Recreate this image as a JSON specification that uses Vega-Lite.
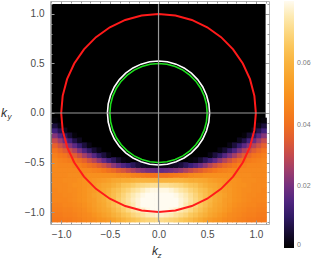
{
"$schema":"https://vega.github.io/schema/vega-lite/v6.json",
"width":219,"height":223,"autosize":"none",
"padding":{"left":50,"top":1,"right":43,"bottom":37},
"background":"white",
"data":{"values":[{}]},
"config":{"view":{"stroke":"#b4b4b4","strokeWidth":1},"axis":{"domain":false,"grid":false,"tickColor":"#9a9a9a","tickWidth":1,"labelColor":"#4a4a4a","labelFont":"Liberation Sans","labelFontSize":10}},
"datasets":{
"cells":[
{"x":0,"y":-1.1,"v":0.071},{"x":0,"y":-1.05,"v":0.077},{"x":0,"y":-1,"v":0.081},{"x":0,"y":-0.95,"v":0.084},{"x":0,"y":-0.9,"v":0.084},{"x":0,"y":-0.85,"v":0.083},{"x":0,"y":-0.8,"v":0.079},{"x":0,"y":-0.75,"v":0.072},{"x":0,"y":-0.7,"v":0.060},{"x":0,"y":-0.65,"v":0.041},{"x":0,"y":-0.6,"v":0.018},{"x":0,"y":-0.55,"v":0.002},
{"x":-0.05,"y":-1.1,"v":0.071},{"x":-0.05,"y":-1.05,"v":0.077},{"x":-0.05,"y":-1,"v":0.081},{"x":-0.05,"y":-0.95,"v":0.084},{"x":-0.05,"y":-0.9,"v":0.084},{"x":-0.05,"y":-0.85,"v":0.083},{"x":-0.05,"y":-0.8,"v":0.079},{"x":-0.05,"y":-0.75,"v":0.072},{"x":-0.05,"y":-0.7,"v":0.060},{"x":-0.05,"y":-0.65,"v":0.041},{"x":-0.05,"y":-0.6,"v":0.018},{"x":-0.05,"y":-0.55,"v":0.002},
{"x":0.05,"y":-1.1,"v":0.070},{"x":0.05,"y":-1.05,"v":0.076},{"x":0.05,"y":-1,"v":0.080},{"x":0.05,"y":-0.95,"v":0.083},{"x":0.05,"y":-0.9,"v":0.084},{"x":0.05,"y":-0.85,"v":0.082},{"x":0.05,"y":-0.8,"v":0.079},{"x":0.05,"y":-0.75,"v":0.072},{"x":0.05,"y":-0.7,"v":0.060},{"x":0.05,"y":-0.65,"v":0.041},{"x":0.05,"y":-0.6,"v":0.019},{"x":0.05,"y":-0.55,"v":0.002},
{"x":-0.1,"y":-1.1,"v":0.070},{"x":-0.1,"y":-1.05,"v":0.076},{"x":-0.1,"y":-1,"v":0.080},{"x":-0.1,"y":-0.95,"v":0.083},{"x":-0.1,"y":-0.9,"v":0.084},{"x":-0.1,"y":-0.85,"v":0.082},{"x":-0.1,"y":-0.8,"v":0.079},{"x":-0.1,"y":-0.75,"v":0.072},{"x":-0.1,"y":-0.7,"v":0.060},{"x":-0.1,"y":-0.65,"v":0.041},{"x":-0.1,"y":-0.6,"v":0.019},{"x":-0.1,"y":-0.55,"v":0.002},
{"x":0.1,"y":-1.1,"v":0.069},{"x":0.1,"y":-1.05,"v":0.075},{"x":0.1,"y":-1,"v":0.079},{"x":0.1,"y":-0.95,"v":0.082},{"x":0.1,"y":-0.9,"v":0.083},{"x":0.1,"y":-0.85,"v":0.081},{"x":0.1,"y":-0.8,"v":0.078},{"x":0.1,"y":-0.75,"v":0.071},{"x":0.1,"y":-0.7,"v":0.060},{"x":0.1,"y":-0.65,"v":0.042},{"x":0.1,"y":-0.6,"v":0.020},{"x":0.1,"y":-0.55,"v":0.003},
{"x":-0.15,"y":-1.1,"v":0.069},{"x":-0.15,"y":-1.05,"v":0.075},{"x":-0.15,"y":-1,"v":0.079},{"x":-0.15,"y":-0.95,"v":0.082},{"x":-0.15,"y":-0.9,"v":0.083},{"x":-0.15,"y":-0.85,"v":0.081},{"x":-0.15,"y":-0.8,"v":0.078},{"x":-0.15,"y":-0.75,"v":0.071},{"x":-0.15,"y":-0.7,"v":0.060},{"x":-0.15,"y":-0.65,"v":0.042},{"x":-0.15,"y":-0.6,"v":0.020},{"x":-0.15,"y":-0.55,"v":0.003},
{"x":0.15,"y":-1.1,"v":0.068},{"x":0.15,"y":-1.05,"v":0.073},{"x":0.15,"y":-1,"v":0.077},{"x":0.15,"y":-0.95,"v":0.080},{"x":0.15,"y":-0.9,"v":0.081},{"x":0.15,"y":-0.85,"v":0.079},{"x":0.15,"y":-0.8,"v":0.076},{"x":0.15,"y":-0.75,"v":0.070},{"x":0.15,"y":-0.7,"v":0.060},{"x":0.15,"y":-0.65,"v":0.043},{"x":0.15,"y":-0.6,"v":0.022},{"x":0.15,"y":-0.55,"v":0.004},
{"x":-0.2,"y":-1.1,"v":0.068},{"x":-0.2,"y":-1.05,"v":0.073},{"x":-0.2,"y":-1,"v":0.077},{"x":-0.2,"y":-0.95,"v":0.080},{"x":-0.2,"y":-0.9,"v":0.081},{"x":-0.2,"y":-0.85,"v":0.079},{"x":-0.2,"y":-0.8,"v":0.076},{"x":-0.2,"y":-0.75,"v":0.070},{"x":-0.2,"y":-0.7,"v":0.060},{"x":-0.2,"y":-0.65,"v":0.043},{"x":-0.2,"y":-0.6,"v":0.022},{"x":-0.2,"y":-0.55,"v":0.004},
{"x":0.2,"y":-1.1,"v":0.066},{"x":0.2,"y":-1.05,"v":0.071},{"x":0.2,"y":-1,"v":0.075},{"x":0.2,"y":-0.95,"v":0.078},{"x":0.2,"y":-0.9,"v":0.078},{"x":0.2,"y":-0.85,"v":0.077},{"x":0.2,"y":-0.8,"v":0.074},{"x":0.2,"y":-0.75,"v":0.069},{"x":0.2,"y":-0.7,"v":0.060},{"x":0.2,"y":-0.65,"v":0.044},{"x":0.2,"y":-0.6,"v":0.024},{"x":0.2,"y":-0.55,"v":0.006},
{"x":-0.25,"y":-1.1,"v":0.066},{"x":-0.25,"y":-1.05,"v":0.071},{"x":-0.25,"y":-1,"v":0.075},{"x":-0.25,"y":-0.95,"v":0.078},{"x":-0.25,"y":-0.9,"v":0.078},{"x":-0.25,"y":-0.85,"v":0.077},{"x":-0.25,"y":-0.8,"v":0.074},{"x":-0.25,"y":-0.75,"v":0.069},{"x":-0.25,"y":-0.7,"v":0.060},{"x":-0.25,"y":-0.65,"v":0.044},{"x":-0.25,"y":-0.6,"v":0.024},{"x":-0.25,"y":-0.55,"v":0.006},
{"x":0.25,"y":-1.1,"v":0.064},{"x":0.25,"y":-1.05,"v":0.069},{"x":0.25,"y":-1,"v":0.073},{"x":0.25,"y":-0.95,"v":0.075},{"x":0.25,"y":-0.9,"v":0.076},{"x":0.25,"y":-0.85,"v":0.075},{"x":0.25,"y":-0.8,"v":0.072},{"x":0.25,"y":-0.75,"v":0.067},{"x":0.25,"y":-0.7,"v":0.059},{"x":0.25,"y":-0.65,"v":0.045},{"x":0.25,"y":-0.6,"v":0.027},{"x":0.25,"y":-0.55,"v":0.009},
{"x":-0.3,"y":-1.1,"v":0.064},{"x":-0.3,"y":-1.05,"v":0.069},{"x":-0.3,"y":-1,"v":0.073},{"x":-0.3,"y":-0.95,"v":0.075},{"x":-0.3,"y":-0.9,"v":0.076},{"x":-0.3,"y":-0.85,"v":0.075},{"x":-0.3,"y":-0.8,"v":0.072},{"x":-0.3,"y":-0.75,"v":0.067},{"x":-0.3,"y":-0.7,"v":0.059},{"x":-0.3,"y":-0.65,"v":0.045},{"x":-0.3,"y":-0.6,"v":0.027},{"x":-0.3,"y":-0.55,"v":0.009},
{"x":0.3,"y":-1.1,"v":0.062},{"x":0.3,"y":-1.05,"v":0.066},{"x":0.3,"y":-1,"v":0.070},{"x":0.3,"y":-0.95,"v":0.072},{"x":0.3,"y":-0.9,"v":0.073},{"x":0.3,"y":-0.85,"v":0.072},{"x":0.3,"y":-0.8,"v":0.069},{"x":0.3,"y":-0.75,"v":0.065},{"x":0.3,"y":-0.7,"v":0.058},{"x":0.3,"y":-0.65,"v":0.047},{"x":0.3,"y":-0.6,"v":0.030},{"x":0.3,"y":-0.55,"v":0.012},{"x":0.3,"y":-0.5,"v":0.001},
{"x":-0.35,"y":-1.1,"v":0.062},{"x":-0.35,"y":-1.05,"v":0.066},{"x":-0.35,"y":-1,"v":0.070},{"x":-0.35,"y":-0.95,"v":0.072},{"x":-0.35,"y":-0.9,"v":0.073},{"x":-0.35,"y":-0.85,"v":0.072},{"x":-0.35,"y":-0.8,"v":0.069},{"x":-0.35,"y":-0.75,"v":0.065},{"x":-0.35,"y":-0.7,"v":0.058},{"x":-0.35,"y":-0.65,"v":0.047},{"x":-0.35,"y":-0.6,"v":0.030},{"x":-0.35,"y":-0.55,"v":0.012},{"x":-0.35,"y":-0.5,"v":0.001},
{"x":0.35,"y":-1.1,"v":0.060},{"x":0.35,"y":-1.05,"v":0.064},{"x":0.35,"y":-1,"v":0.067},{"x":0.35,"y":-0.95,"v":0.069},{"x":0.35,"y":-0.9,"v":0.070},{"x":0.35,"y":-0.85,"v":0.069},{"x":0.35,"y":-0.8,"v":0.067},{"x":0.35,"y":-0.75,"v":0.064},{"x":0.35,"y":-0.7,"v":0.058},{"x":0.35,"y":-0.65,"v":0.048},{"x":0.35,"y":-0.6,"v":0.033},{"x":0.35,"y":-0.55,"v":0.015},{"x":0.35,"y":-0.5,"v":0.002},
{"x":-0.4,"y":-1.1,"v":0.060},{"x":-0.4,"y":-1.05,"v":0.064},{"x":-0.4,"y":-1,"v":0.067},{"x":-0.4,"y":-0.95,"v":0.069},{"x":-0.4,"y":-0.9,"v":0.070},{"x":-0.4,"y":-0.85,"v":0.069},{"x":-0.4,"y":-0.8,"v":0.067},{"x":-0.4,"y":-0.75,"v":0.064},{"x":-0.4,"y":-0.7,"v":0.058},{"x":-0.4,"y":-0.65,"v":0.048},{"x":-0.4,"y":-0.6,"v":0.033},{"x":-0.4,"y":-0.55,"v":0.015},{"x":-0.4,"y":-0.5,"v":0.002},
{"x":0.4,"y":-1.1,"v":0.058},{"x":0.4,"y":-1.05,"v":0.061},{"x":0.4,"y":-1,"v":0.064},{"x":0.4,"y":-0.95,"v":0.066},{"x":0.4,"y":-0.9,"v":0.067},{"x":0.4,"y":-0.85,"v":0.066},{"x":0.4,"y":-0.8,"v":0.064},{"x":0.4,"y":-0.75,"v":0.061},{"x":0.4,"y":-0.7,"v":0.057},{"x":0.4,"y":-0.65,"v":0.048},{"x":0.4,"y":-0.6,"v":0.035},{"x":0.4,"y":-0.55,"v":0.019},{"x":0.4,"y":-0.5,"v":0.005},
{"x":-0.45,"y":-1.1,"v":0.058},{"x":-0.45,"y":-1.05,"v":0.061},{"x":-0.45,"y":-1,"v":0.064},{"x":-0.45,"y":-0.95,"v":0.066},{"x":-0.45,"y":-0.9,"v":0.067},{"x":-0.45,"y":-0.85,"v":0.066},{"x":-0.45,"y":-0.8,"v":0.064},{"x":-0.45,"y":-0.75,"v":0.061},{"x":-0.45,"y":-0.7,"v":0.057},{"x":-0.45,"y":-0.65,"v":0.048},{"x":-0.45,"y":-0.6,"v":0.035},{"x":-0.45,"y":-0.55,"v":0.019},{"x":-0.45,"y":-0.5,"v":0.005},
{"x":0.45,"y":-1.1,"v":0.055},{"x":0.45,"y":-1.05,"v":0.059},{"x":0.45,"y":-1,"v":0.061},{"x":0.45,"y":-0.95,"v":0.063},{"x":0.45,"y":-0.9,"v":0.063},{"x":0.45,"y":-0.85,"v":0.063},{"x":0.45,"y":-0.8,"v":0.062},{"x":0.45,"y":-0.75,"v":0.059},{"x":0.45,"y":-0.7,"v":0.056},{"x":0.45,"y":-0.65,"v":0.049},{"x":0.45,"y":-0.6,"v":0.038},{"x":0.45,"y":-0.55,"v":0.023},{"x":0.45,"y":-0.5,"v":0.009},
{"x":-0.5,"y":-1.1,"v":0.055},{"x":-0.5,"y":-1.05,"v":0.059},{"x":-0.5,"y":-1,"v":0.061},{"x":-0.5,"y":-0.95,"v":0.063},{"x":-0.5,"y":-0.9,"v":0.063},{"x":-0.5,"y":-0.85,"v":0.063},{"x":-0.5,"y":-0.8,"v":0.062},{"x":-0.5,"y":-0.75,"v":0.059},{"x":-0.5,"y":-0.7,"v":0.056},{"x":-0.5,"y":-0.65,"v":0.049},{"x":-0.5,"y":-0.6,"v":0.038},{"x":-0.5,"y":-0.55,"v":0.023},{"x":-0.5,"y":-0.5,"v":0.009},
{"x":0.5,"y":-1.1,"v":0.053},{"x":0.5,"y":-1.05,"v":0.056},{"x":0.5,"y":-1,"v":0.058},{"x":0.5,"y":-0.95,"v":0.060},{"x":0.5,"y":-0.9,"v":0.061},{"x":0.5,"y":-0.85,"v":0.060},{"x":0.5,"y":-0.8,"v":0.059},{"x":0.5,"y":-0.75,"v":0.057},{"x":0.5,"y":-0.7,"v":0.054},{"x":0.5,"y":-0.65,"v":0.049},{"x":0.5,"y":-0.6,"v":0.040},{"x":0.5,"y":-0.55,"v":0.028},{"x":0.5,"y":-0.5,"v":0.013},{"x":0.5,"y":-0.45,"v":0.002},
{"x":-0.55,"y":-1.1,"v":0.053},{"x":-0.55,"y":-1.05,"v":0.056},{"x":-0.55,"y":-1,"v":0.058},{"x":-0.55,"y":-0.95,"v":0.060},{"x":-0.55,"y":-0.9,"v":0.061},{"x":-0.55,"y":-0.85,"v":0.060},{"x":-0.55,"y":-0.8,"v":0.059},{"x":-0.55,"y":-0.75,"v":0.057},{"x":-0.55,"y":-0.7,"v":0.054},{"x":-0.55,"y":-0.65,"v":0.049},{"x":-0.55,"y":-0.6,"v":0.040},{"x":-0.55,"y":-0.55,"v":0.028},{"x":-0.55,"y":-0.5,"v":0.013},{"x":-0.55,"y":-0.45,"v":0.002},
{"x":0.55,"y":-1.1,"v":0.051},{"x":0.55,"y":-1.05,"v":0.054},{"x":0.55,"y":-1,"v":0.056},{"x":0.55,"y":-0.95,"v":0.057},{"x":0.55,"y":-0.9,"v":0.058},{"x":0.55,"y":-0.85,"v":0.058},{"x":0.55,"y":-0.8,"v":0.057},{"x":0.55,"y":-0.75,"v":0.056},{"x":0.55,"y":-0.7,"v":0.053},{"x":0.55,"y":-0.65,"v":0.049},{"x":0.55,"y":-0.6,"v":0.042},{"x":0.55,"y":-0.55,"v":0.032},{"x":0.55,"y":-0.5,"v":0.018},{"x":0.55,"y":-0.45,"v":0.006},
{"x":-0.6,"y":-1.1,"v":0.051},{"x":-0.6,"y":-1.05,"v":0.054},{"x":-0.6,"y":-1,"v":0.056},{"x":-0.6,"y":-0.95,"v":0.057},{"x":-0.6,"y":-0.9,"v":0.058},{"x":-0.6,"y":-0.85,"v":0.058},{"x":-0.6,"y":-0.8,"v":0.057},{"x":-0.6,"y":-0.75,"v":0.056},{"x":-0.6,"y":-0.7,"v":0.053},{"x":-0.6,"y":-0.65,"v":0.049},{"x":-0.6,"y":-0.6,"v":0.042},{"x":-0.6,"y":-0.55,"v":0.032},{"x":-0.6,"y":-0.5,"v":0.018},{"x":-0.6,"y":-0.45,"v":0.006},
{"x":0.6,"y":-1.1,"v":0.050},{"x":0.6,"y":-1.05,"v":0.052},{"x":0.6,"y":-1,"v":0.054},{"x":0.6,"y":-0.95,"v":0.055},{"x":0.6,"y":-0.9,"v":0.056},{"x":0.6,"y":-0.85,"v":0.056},{"x":0.6,"y":-0.8,"v":0.055},{"x":0.6,"y":-0.75,"v":0.054},{"x":0.6,"y":-0.7,"v":0.052},{"x":0.6,"y":-0.65,"v":0.049},{"x":0.6,"y":-0.6,"v":0.044},{"x":0.6,"y":-0.55,"v":0.035},{"x":0.6,"y":-0.5,"v":0.023},{"x":0.6,"y":-0.45,"v":0.010},{"x":0.6,"y":-0.4,"v":0.002},
{"x":-0.65,"y":-1.1,"v":0.050},{"x":-0.65,"y":-1.05,"v":0.052},{"x":-0.65,"y":-1,"v":0.054},{"x":-0.65,"y":-0.95,"v":0.055},{"x":-0.65,"y":-0.9,"v":0.056},{"x":-0.65,"y":-0.85,"v":0.056},{"x":-0.65,"y":-0.8,"v":0.055},{"x":-0.65,"y":-0.75,"v":0.054},{"x":-0.65,"y":-0.7,"v":0.052},{"x":-0.65,"y":-0.65,"v":0.049},{"x":-0.65,"y":-0.6,"v":0.044},{"x":-0.65,"y":-0.55,"v":0.035},{"x":-0.65,"y":-0.5,"v":0.023},{"x":-0.65,"y":-0.45,"v":0.010},{"x":-0.65,"y":-0.4,"v":0.002},
{"x":0.65,"y":-1.1,"v":0.048},{"x":0.65,"y":-1.05,"v":0.050},{"x":0.65,"y":-1,"v":0.052},{"x":0.65,"y":-0.95,"v":0.053},{"x":0.65,"y":-0.9,"v":0.053},{"x":0.65,"y":-0.85,"v":0.054},{"x":0.65,"y":-0.8,"v":0.053},{"x":0.65,"y":-0.75,"v":0.052},{"x":0.65,"y":-0.7,"v":0.051},{"x":0.65,"y":-0.65,"v":0.049},{"x":0.65,"y":-0.6,"v":0.045},{"x":0.65,"y":-0.55,"v":0.038},{"x":0.65,"y":-0.5,"v":0.028},{"x":0.65,"y":-0.45,"v":0.016},{"x":0.65,"y":-0.4,"v":0.005},
{"x":-0.7,"y":-1.1,"v":0.048},{"x":-0.7,"y":-1.05,"v":0.050},{"x":-0.7,"y":-1,"v":0.052},{"x":-0.7,"y":-0.95,"v":0.053},{"x":-0.7,"y":-0.9,"v":0.053},{"x":-0.7,"y":-0.85,"v":0.054},{"x":-0.7,"y":-0.8,"v":0.053},{"x":-0.7,"y":-0.75,"v":0.052},{"x":-0.7,"y":-0.7,"v":0.051},{"x":-0.7,"y":-0.65,"v":0.049},{"x":-0.7,"y":-0.6,"v":0.045},{"x":-0.7,"y":-0.55,"v":0.038},{"x":-0.7,"y":-0.5,"v":0.028},{"x":-0.7,"y":-0.45,"v":0.016},{"x":-0.7,"y":-0.4,"v":0.005},
{"x":0.7,"y":-1.1,"v":0.047},{"x":0.7,"y":-1.05,"v":0.048},{"x":0.7,"y":-1,"v":0.050},{"x":0.7,"y":-0.95,"v":0.051},{"x":0.7,"y":-0.9,"v":0.052},{"x":0.7,"y":-0.85,"v":0.052},{"x":0.7,"y":-0.8,"v":0.052},{"x":0.7,"y":-0.75,"v":0.051},{"x":0.7,"y":-0.7,"v":0.050},{"x":0.7,"y":-0.65,"v":0.049},{"x":0.7,"y":-0.6,"v":0.046},{"x":0.7,"y":-0.55,"v":0.040},{"x":0.7,"y":-0.5,"v":0.032},{"x":0.7,"y":-0.45,"v":0.021},{"x":0.7,"y":-0.4,"v":0.010},{"x":0.7,"y":-0.35,"v":0.002},
{"x":-0.75,"y":-1.1,"v":0.047},{"x":-0.75,"y":-1.05,"v":0.048},{"x":-0.75,"y":-1,"v":0.050},{"x":-0.75,"y":-0.95,"v":0.051},{"x":-0.75,"y":-0.9,"v":0.052},{"x":-0.75,"y":-0.85,"v":0.052},{"x":-0.75,"y":-0.8,"v":0.052},{"x":-0.75,"y":-0.75,"v":0.051},{"x":-0.75,"y":-0.7,"v":0.050},{"x":-0.75,"y":-0.65,"v":0.049},{"x":-0.75,"y":-0.6,"v":0.046},{"x":-0.75,"y":-0.55,"v":0.040},{"x":-0.75,"y":-0.5,"v":0.032},{"x":-0.75,"y":-0.45,"v":0.021},{"x":-0.75,"y":-0.4,"v":0.010},{"x":-0.75,"y":-0.35,"v":0.002},
{"x":0.75,"y":-1.1,"v":0.046},{"x":0.75,"y":-1.05,"v":0.047},{"x":0.75,"y":-1,"v":0.048},{"x":0.75,"y":-0.95,"v":0.049},{"x":0.75,"y":-0.9,"v":0.050},{"x":0.75,"y":-0.85,"v":0.050},{"x":0.75,"y":-0.8,"v":0.050},{"x":0.75,"y":-0.75,"v":0.050},{"x":0.75,"y":-0.7,"v":0.050},{"x":0.75,"y":-0.65,"v":0.048},{"x":0.75,"y":-0.6,"v":0.046},{"x":0.75,"y":-0.55,"v":0.042},{"x":0.75,"y":-0.5,"v":0.036},{"x":0.75,"y":-0.45,"v":0.026},{"x":0.75,"y":-0.4,"v":0.015},{"x":0.75,"y":-0.35,"v":0.006},
{"x":-0.8,"y":-1.1,"v":0.046},{"x":-0.8,"y":-1.05,"v":0.047},{"x":-0.8,"y":-1,"v":0.048},{"x":-0.8,"y":-0.95,"v":0.049},{"x":-0.8,"y":-0.9,"v":0.050},{"x":-0.8,"y":-0.85,"v":0.050},{"x":-0.8,"y":-0.8,"v":0.050},{"x":-0.8,"y":-0.75,"v":0.050},{"x":-0.8,"y":-0.7,"v":0.050},{"x":-0.8,"y":-0.65,"v":0.048},{"x":-0.8,"y":-0.6,"v":0.046},{"x":-0.8,"y":-0.55,"v":0.042},{"x":-0.8,"y":-0.5,"v":0.036},{"x":-0.8,"y":-0.45,"v":0.026},{"x":-0.8,"y":-0.4,"v":0.015},{"x":-0.8,"y":-0.35,"v":0.006},
{"x":0.8,"y":-1.1,"v":0.045},{"x":0.8,"y":-1.05,"v":0.046},{"x":0.8,"y":-1,"v":0.047},{"x":0.8,"y":-0.95,"v":0.048},{"x":0.8,"y":-0.9,"v":0.049},{"x":0.8,"y":-0.85,"v":0.049},{"x":0.8,"y":-0.8,"v":0.049},{"x":0.8,"y":-0.75,"v":0.049},{"x":0.8,"y":-0.7,"v":0.049},{"x":0.8,"y":-0.65,"v":0.048},{"x":0.8,"y":-0.6,"v":0.047},{"x":0.8,"y":-0.55,"v":0.044},{"x":0.8,"y":-0.5,"v":0.039},{"x":0.8,"y":-0.45,"v":0.031},{"x":0.8,"y":-0.4,"v":0.021},{"x":0.8,"y":-0.35,"v":0.011},{"x":0.8,"y":-0.3,"v":0.003},
{"x":-0.85,"y":-1.1,"v":0.045},{"x":-0.85,"y":-1.05,"v":0.046},{"x":-0.85,"y":-1,"v":0.047},{"x":-0.85,"y":-0.95,"v":0.048},{"x":-0.85,"y":-0.9,"v":0.049},{"x":-0.85,"y":-0.85,"v":0.049},{"x":-0.85,"y":-0.8,"v":0.049},{"x":-0.85,"y":-0.75,"v":0.049},{"x":-0.85,"y":-0.7,"v":0.049},{"x":-0.85,"y":-0.65,"v":0.048},{"x":-0.85,"y":-0.6,"v":0.047},{"x":-0.85,"y":-0.55,"v":0.044},{"x":-0.85,"y":-0.5,"v":0.039},{"x":-0.85,"y":-0.45,"v":0.031},{"x":-0.85,"y":-0.4,"v":0.021},{"x":-0.85,"y":-0.35,"v":0.011},{"x":-0.85,"y":-0.3,"v":0.003},
{"x":0.85,"y":-1.1,"v":0.044},{"x":0.85,"y":-1.05,"v":0.045},{"x":0.85,"y":-1,"v":0.046},{"x":0.85,"y":-0.95,"v":0.047},{"x":0.85,"y":-0.9,"v":0.048},{"x":0.85,"y":-0.85,"v":0.048},{"x":0.85,"y":-0.8,"v":0.048},{"x":0.85,"y":-0.75,"v":0.049},{"x":0.85,"y":-0.7,"v":0.048},{"x":0.85,"y":-0.65,"v":0.048},{"x":0.85,"y":-0.6,"v":0.047},{"x":0.85,"y":-0.55,"v":0.045},{"x":0.85,"y":-0.5,"v":0.041},{"x":0.85,"y":-0.45,"v":0.035},{"x":0.85,"y":-0.4,"v":0.027},{"x":0.85,"y":-0.35,"v":0.017},{"x":0.85,"y":-0.3,"v":0.007},{"x":0.85,"y":-0.25,"v":0.001},
{"x":-0.9,"y":-1.1,"v":0.044},{"x":-0.9,"y":-1.05,"v":0.045},{"x":-0.9,"y":-1,"v":0.046},{"x":-0.9,"y":-0.95,"v":0.047},{"x":-0.9,"y":-0.9,"v":0.048},{"x":-0.9,"y":-0.85,"v":0.048},{"x":-0.9,"y":-0.8,"v":0.048},{"x":-0.9,"y":-0.75,"v":0.049},{"x":-0.9,"y":-0.7,"v":0.048},{"x":-0.9,"y":-0.65,"v":0.048},{"x":-0.9,"y":-0.6,"v":0.047},{"x":-0.9,"y":-0.55,"v":0.045},{"x":-0.9,"y":-0.5,"v":0.041},{"x":-0.9,"y":-0.45,"v":0.035},{"x":-0.9,"y":-0.4,"v":0.027},{"x":-0.9,"y":-0.35,"v":0.017},{"x":-0.9,"y":-0.3,"v":0.007},{"x":-0.9,"y":-0.25,"v":0.001},
{"x":0.9,"y":-1.1,"v":0.043},{"x":0.9,"y":-1.05,"v":0.044},{"x":0.9,"y":-1,"v":0.045},{"x":0.9,"y":-0.95,"v":0.046},{"x":0.9,"y":-0.9,"v":0.047},{"x":0.9,"y":-0.85,"v":0.047},{"x":0.9,"y":-0.8,"v":0.048},{"x":0.9,"y":-0.75,"v":0.048},{"x":0.9,"y":-0.7,"v":0.048},{"x":0.9,"y":-0.65,"v":0.048},{"x":0.9,"y":-0.6,"v":0.047},{"x":0.9,"y":-0.55,"v":0.046},{"x":0.9,"y":-0.5,"v":0.043},{"x":0.9,"y":-0.45,"v":0.038},{"x":0.9,"y":-0.4,"v":0.031},{"x":0.9,"y":-0.35,"v":0.022},{"x":0.9,"y":-0.3,"v":0.013},{"x":0.9,"y":-0.25,"v":0.005},
{"x":-0.95,"y":-1.1,"v":0.043},{"x":-0.95,"y":-1.05,"v":0.044},{"x":-0.95,"y":-1,"v":0.045},{"x":-0.95,"y":-0.95,"v":0.046},{"x":-0.95,"y":-0.9,"v":0.047},{"x":-0.95,"y":-0.85,"v":0.047},{"x":-0.95,"y":-0.8,"v":0.048},{"x":-0.95,"y":-0.75,"v":0.048},{"x":-0.95,"y":-0.7,"v":0.048},{"x":-0.95,"y":-0.65,"v":0.048},{"x":-0.95,"y":-0.6,"v":0.047},{"x":-0.95,"y":-0.55,"v":0.046},{"x":-0.95,"y":-0.5,"v":0.043},{"x":-0.95,"y":-0.45,"v":0.038},{"x":-0.95,"y":-0.4,"v":0.031},{"x":-0.95,"y":-0.35,"v":0.022},{"x":-0.95,"y":-0.3,"v":0.013},{"x":-0.95,"y":-0.25,"v":0.005},
{"x":0.95,"y":-1.1,"v":0.043},{"x":0.95,"y":-1.05,"v":0.044},{"x":0.95,"y":-1,"v":0.045},{"x":0.95,"y":-0.95,"v":0.046},{"x":0.95,"y":-0.9,"v":0.046},{"x":0.95,"y":-0.85,"v":0.047},{"x":0.95,"y":-0.8,"v":0.047},{"x":0.95,"y":-0.75,"v":0.047},{"x":0.95,"y":-0.7,"v":0.048},{"x":0.95,"y":-0.65,"v":0.047},{"x":0.95,"y":-0.6,"v":0.047},{"x":0.95,"y":-0.55,"v":0.046},{"x":0.95,"y":-0.5,"v":0.044},{"x":0.95,"y":-0.45,"v":0.041},{"x":0.95,"y":-0.4,"v":0.035},{"x":0.95,"y":-0.35,"v":0.028},{"x":0.95,"y":-0.3,"v":0.019},{"x":0.95,"y":-0.25,"v":0.010},{"x":0.95,"y":-0.2,"v":0.003},
{"x":-1,"y":-1.1,"v":0.043},{"x":-1,"y":-1.05,"v":0.044},{"x":-1,"y":-1,"v":0.045},{"x":-1,"y":-0.95,"v":0.046},{"x":-1,"y":-0.9,"v":0.046},{"x":-1,"y":-0.85,"v":0.047},{"x":-1,"y":-0.8,"v":0.047},{"x":-1,"y":-0.75,"v":0.047},{"x":-1,"y":-0.7,"v":0.048},{"x":-1,"y":-0.65,"v":0.047},{"x":-1,"y":-0.6,"v":0.047},{"x":-1,"y":-0.55,"v":0.046},{"x":-1,"y":-0.5,"v":0.044},{"x":-1,"y":-0.45,"v":0.041},{"x":-1,"y":-0.4,"v":0.035},{"x":-1,"y":-0.35,"v":0.028},{"x":-1,"y":-0.3,"v":0.019},{"x":-1,"y":-0.25,"v":0.010},{"x":-1,"y":-0.2,"v":0.003},
{"x":1,"y":-1.1,"v":0.042},{"x":1,"y":-1.05,"v":0.043},{"x":1,"y":-1,"v":0.044},{"x":1,"y":-0.95,"v":0.045},{"x":1,"y":-0.9,"v":0.046},{"x":1,"y":-0.85,"v":0.046},{"x":1,"y":-0.8,"v":0.047},{"x":1,"y":-0.75,"v":0.047},{"x":1,"y":-0.7,"v":0.047},{"x":1,"y":-0.65,"v":0.047},{"x":1,"y":-0.6,"v":0.047},{"x":1,"y":-0.55,"v":0.046},{"x":1,"y":-0.5,"v":0.045},{"x":1,"y":-0.45,"v":0.042},{"x":1,"y":-0.4,"v":0.038},{"x":1,"y":-0.35,"v":0.032},{"x":1,"y":-0.3,"v":0.025},{"x":1,"y":-0.25,"v":0.016},{"x":1,"y":-0.2,"v":0.008},{"x":1,"y":-0.15,"v":0.002},
{"x":-1.05,"y":-1.1,"v":0.042},{"x":-1.05,"y":-1.05,"v":0.043},{"x":-1.05,"y":-1,"v":0.044},{"x":-1.05,"y":-0.95,"v":0.045},{"x":-1.05,"y":-0.9,"v":0.046},{"x":-1.05,"y":-0.85,"v":0.046},{"x":-1.05,"y":-0.8,"v":0.047},{"x":-1.05,"y":-0.75,"v":0.047},{"x":-1.05,"y":-0.7,"v":0.047},{"x":-1.05,"y":-0.65,"v":0.047},{"x":-1.05,"y":-0.6,"v":0.047},{"x":-1.05,"y":-0.55,"v":0.046},{"x":-1.05,"y":-0.5,"v":0.045},{"x":-1.05,"y":-0.45,"v":0.042},{"x":-1.05,"y":-0.4,"v":0.038},{"x":-1.05,"y":-0.35,"v":0.032},{"x":-1.05,"y":-0.3,"v":0.025},{"x":-1.05,"y":-0.25,"v":0.016},{"x":-1.05,"y":-0.2,"v":0.008},{"x":-1.05,"y":-0.15,"v":0.002},
{"x":1.05,"y":-1.1,"v":0.042},{"x":1.05,"y":-1.05,"v":0.043},{"x":1.05,"y":-1,"v":0.044},{"x":1.05,"y":-0.95,"v":0.045},{"x":1.05,"y":-0.9,"v":0.046},{"x":1.05,"y":-0.85,"v":0.046},{"x":1.05,"y":-0.8,"v":0.046},{"x":1.05,"y":-0.75,"v":0.047},{"x":1.05,"y":-0.7,"v":0.047},{"x":1.05,"y":-0.65,"v":0.047},{"x":1.05,"y":-0.6,"v":0.047},{"x":1.05,"y":-0.55,"v":0.047},{"x":1.05,"y":-0.5,"v":0.046},{"x":1.05,"y":-0.45,"v":0.044},{"x":1.05,"y":-0.4,"v":0.041},{"x":1.05,"y":-0.35,"v":0.036},{"x":1.05,"y":-0.3,"v":0.030},{"x":1.05,"y":-0.25,"v":0.022},{"x":1.05,"y":-0.2,"v":0.013},{"x":1.05,"y":-0.15,"v":0.006},{"x":1.05,"y":-0.1,"v":0.001},
{"x":-1.1,"y":-1.1,"v":0.042},{"x":-1.1,"y":-1.05,"v":0.043},{"x":-1.1,"y":-1,"v":0.044},{"x":-1.1,"y":-0.95,"v":0.045},{"x":-1.1,"y":-0.9,"v":0.046},{"x":-1.1,"y":-0.85,"v":0.046},{"x":-1.1,"y":-0.8,"v":0.046},{"x":-1.1,"y":-0.75,"v":0.047},{"x":-1.1,"y":-0.7,"v":0.047},{"x":-1.1,"y":-0.65,"v":0.047},{"x":-1.1,"y":-0.6,"v":0.047},{"x":-1.1,"y":-0.55,"v":0.047},{"x":-1.1,"y":-0.5,"v":0.046},{"x":-1.1,"y":-0.45,"v":0.044},{"x":-1.1,"y":-0.4,"v":0.041},{"x":-1.1,"y":-0.35,"v":0.036},{"x":-1.1,"y":-0.3,"v":0.030},{"x":-1.1,"y":-0.25,"v":0.022},{"x":-1.1,"y":-0.2,"v":0.013},{"x":-1.1,"y":-0.15,"v":0.006},{"x":-1.1,"y":-0.1,"v":0.001}
],
"circ":[
{"c":"r","i":0,"x":1,"y":0},{"c":"r","i":1,"x":0.9848,"y":0.1736},{"c":"r","i":2,"x":0.9397,"y":0.342},{"c":"r","i":3,"x":0.866,"y":0.5},{"c":"r","i":4,"x":0.766,"y":0.6428},{"c":"r","i":5,"x":0.6428,"y":0.766},{"c":"r","i":6,"x":0.5,"y":0.866},{"c":"r","i":7,"x":0.342,"y":0.9397},{"c":"r","i":8,"x":0.1736,"y":0.9848},{"c":"r","i":9,"x":0,"y":1},{"c":"r","i":10,"x":-0.1736,"y":0.9848},{"c":"r","i":11,"x":-0.342,"y":0.9397},{"c":"r","i":12,"x":-0.5,"y":0.866},{"c":"r","i":13,"x":-0.6428,"y":0.766},{"c":"r","i":14,"x":-0.766,"y":0.6428},{"c":"r","i":15,"x":-0.866,"y":0.5},{"c":"r","i":16,"x":-0.9397,"y":0.342},{"c":"r","i":17,"x":-0.9848,"y":0.1736},{"c":"r","i":18,"x":-1,"y":0},{"c":"r","i":19,"x":-0.9848,"y":-0.1736},{"c":"r","i":20,"x":-0.9397,"y":-0.342},{"c":"r","i":21,"x":-0.866,"y":-0.5},{"c":"r","i":22,"x":-0.766,"y":-0.6428},{"c":"r","i":23,"x":-0.6428,"y":-0.766},{"c":"r","i":24,"x":-0.5,"y":-0.866},{"c":"r","i":25,"x":-0.342,"y":-0.9397},{"c":"r","i":26,"x":-0.1736,"y":-0.9848},{"c":"r","i":27,"x":0,"y":-1},{"c":"r","i":28,"x":0.1736,"y":-0.9848},{"c":"r","i":29,"x":0.342,"y":-0.9397},{"c":"r","i":30,"x":0.5,"y":-0.866},{"c":"r","i":31,"x":0.6428,"y":-0.766},{"c":"r","i":32,"x":0.766,"y":-0.6428},{"c":"r","i":33,"x":0.866,"y":-0.5},{"c":"r","i":34,"x":0.9397,"y":-0.342},{"c":"r","i":35,"x":0.9848,"y":-0.1736},
{"c":"w","i":0,"x":0.525,"y":0},{"c":"w","i":1,"x":0.517,"y":0.0911},{"c":"w","i":2,"x":0.4933,"y":0.1796},{"c":"w","i":3,"x":0.4547,"y":0.2625},{"c":"w","i":4,"x":0.4022,"y":0.3375},{"c":"w","i":5,"x":0.3375,"y":0.4022},{"c":"w","i":6,"x":0.2625,"y":0.4547},{"c":"w","i":7,"x":0.1796,"y":0.4933},{"c":"w","i":8,"x":0.0911,"y":0.517},{"c":"w","i":9,"x":0,"y":0.525},{"c":"w","i":10,"x":-0.0911,"y":0.517},{"c":"w","i":11,"x":-0.1796,"y":0.4933},{"c":"w","i":12,"x":-0.2625,"y":0.4547},{"c":"w","i":13,"x":-0.3375,"y":0.4022},{"c":"w","i":14,"x":-0.4022,"y":0.3375},{"c":"w","i":15,"x":-0.4547,"y":0.2625},{"c":"w","i":16,"x":-0.4933,"y":0.1796},{"c":"w","i":17,"x":-0.517,"y":0.0911},{"c":"w","i":18,"x":-0.525,"y":0},{"c":"w","i":19,"x":-0.517,"y":-0.0911},{"c":"w","i":20,"x":-0.4933,"y":-0.1796},{"c":"w","i":21,"x":-0.4547,"y":-0.2625},{"c":"w","i":22,"x":-0.4022,"y":-0.3375},{"c":"w","i":23,"x":-0.3375,"y":-0.4022},{"c":"w","i":24,"x":-0.2625,"y":-0.4547},{"c":"w","i":25,"x":-0.1796,"y":-0.4933},{"c":"w","i":26,"x":-0.0911,"y":-0.517},{"c":"w","i":27,"x":0,"y":-0.525},{"c":"w","i":28,"x":0.0911,"y":-0.517},{"c":"w","i":29,"x":0.1796,"y":-0.4933},{"c":"w","i":30,"x":0.2625,"y":-0.4547},{"c":"w","i":31,"x":0.3375,"y":-0.4022},{"c":"w","i":32,"x":0.4022,"y":-0.3375},{"c":"w","i":33,"x":0.4547,"y":-0.2625},{"c":"w","i":34,"x":0.4933,"y":-0.1796},{"c":"w","i":35,"x":0.517,"y":-0.0911},
{"c":"g","i":0,"x":0.5,"y":0},{"c":"g","i":1,"x":0.4924,"y":0.0868},{"c":"g","i":2,"x":0.4698,"y":0.171},{"c":"g","i":3,"x":0.433,"y":0.25},{"c":"g","i":4,"x":0.383,"y":0.3214},{"c":"g","i":5,"x":0.3214,"y":0.383},{"c":"g","i":6,"x":0.25,"y":0.433},{"c":"g","i":7,"x":0.171,"y":0.4698},{"c":"g","i":8,"x":0.0868,"y":0.4924},{"c":"g","i":9,"x":0,"y":0.5},{"c":"g","i":10,"x":-0.0868,"y":0.4924},{"c":"g","i":11,"x":-0.171,"y":0.4698},{"c":"g","i":12,"x":-0.25,"y":0.433},{"c":"g","i":13,"x":-0.3214,"y":0.383},{"c":"g","i":14,"x":-0.383,"y":0.3214},{"c":"g","i":15,"x":-0.433,"y":0.25},{"c":"g","i":16,"x":-0.4698,"y":0.171},{"c":"g","i":17,"x":-0.4924,"y":0.0868},{"c":"g","i":18,"x":-0.5,"y":0},{"c":"g","i":19,"x":-0.4924,"y":-0.0868},{"c":"g","i":20,"x":-0.4698,"y":-0.171},{"c":"g","i":21,"x":-0.433,"y":-0.25},{"c":"g","i":22,"x":-0.383,"y":-0.3214},{"c":"g","i":23,"x":-0.3214,"y":-0.383},{"c":"g","i":24,"x":-0.25,"y":-0.433},{"c":"g","i":25,"x":-0.171,"y":-0.4698},{"c":"g","i":26,"x":-0.0868,"y":-0.4924},{"c":"g","i":27,"x":0,"y":-0.5},{"c":"g","i":28,"x":0.0868,"y":-0.4924},{"c":"g","i":29,"x":0.171,"y":-0.4698},{"c":"g","i":30,"x":0.25,"y":-0.433},{"c":"g","i":31,"x":0.3214,"y":-0.383},{"c":"g","i":32,"x":0.383,"y":-0.3214},{"c":"g","i":33,"x":0.433,"y":-0.25},{"c":"g","i":34,"x":0.4698,"y":-0.171},{"c":"g","i":35,"x":0.4924,"y":-0.0868}
]
},
"resolve":{"axis":{"x":"independent","y":"independent"}},
"layer":[
{"mark":{"type":"rect","color":"#000000"},
 "encoding":{
  "x":{"datum":-1.1,"type":"quantitative","scale":{"domain":[-1.115,1.135],"nice":false,"zero":false},"axis":null},
  "x2":{"datum":1.1},
  "y":{"datum":-1.1,"type":"quantitative","scale":{"domain":[-1.121,1.131],"nice":false,"zero":false},"axis":null},
  "y2":{"datum":1.1}}},
{"data":{"name":"cells"},
 "mark":{"type":"rect"},
 "encoding":{
  "x":{"field":"x","type":"quantitative","bin":{"binned":true,"step":0.058},"scale":{"domain":[-1.115,1.135],"nice":false,"zero":false},
   "axis":{"orient":"bottom","title":null,"values":[-1.1,-1,-0.9,-0.8,-0.7,-0.6,-0.5,-0.4,-0.3,-0.2,-0.1,0,0.1,0.2,0.3,0.4,0.5,0.6,0.7,0.8,0.9,1,1.1],
    "labelExpr":"abs(datum.value*2-round(datum.value*2))<0.01 ? format(datum.value,'.1f') : ''",
    "tickSize":{"condition":{"test":"abs(datum.value*2-round(datum.value*2))<0.01","value":-4},"value":-2},
    "labelPadding":9,"labelFlush":false,"labelOverlap":false}},
  "y":{"field":"y","type":"quantitative","bin":{"binned":true,"step":0.058},"scale":{"domain":[-1.121,1.131],"nice":false,"zero":false},
   "axis":{"orient":"left","title":null,"values":[-1.1,-1,-0.9,-0.8,-0.7,-0.6,-0.5,-0.4,-0.3,-0.2,-0.1,0,0.1,0.2,0.3,0.4,0.5,0.6,0.7,0.8,0.9,1,1.1],
    "labelExpr":"abs(datum.value*2-round(datum.value*2))<0.01 ? format(datum.value,'.1f') : ''",
    "tickSize":{"condition":{"test":"abs(datum.value*2-round(datum.value*2))<0.01","value":-4},"value":-2},
    "labelPadding":10,"labelFlush":false,"labelOverlap":false}},
  "color":{"field":"v","type":"quantitative",
   "scale":{"domain":[0,0.006,0.012,0.018,0.024,0.03,0.036,0.042,0.05,0.058,0.066,0.074,0.08],"range":["#000000","#1c0f3c","#3a1f78","#632b85","#953a72","#c44a4e","#e6612c","#f5781a","#f8931f","#f8ac34","#fbc95e","#fde6a6","#fffbf0"],"clamp":true,"interpolate":"rgb"},
   "legend":{"orient":"right","offset":14,"direction":"vertical","type":"gradient","gradientLength":247,"gradientThickness":10,"values":[0,0.02,0.04,0.06],
    "labelExpr":"datum.value == 0 ? '0' : format(datum.value,'.2f')","labelFontSize":7,"labelColor":"#7a7a7a","labelFont":"Liberation Sans","labelOffset":3,"title":null,"padding":0,"gradientStrokeWidth":0}}}},
{"data":{"name":"circ"},"transform":[{"filter":"datum.c == 'r'"}],
 "mark":{"type":"line","color":"#ff1a1a","strokeWidth":2,"interpolate":"linear-closed"},
 "encoding":{
  "x":{"field":"x","type":"quantitative","scale":{"domain":[-1.115,1.135],"nice":false,"zero":false},
   "axis":{"orient":"top","title":null,"labels":false,"values":[-1.1,-1,-0.9,-0.8,-0.7,-0.6,-0.5,-0.4,-0.3,-0.2,-0.1,0,0.1,0.2,0.3,0.4,0.5,0.6,0.7,0.8,0.9,1,1.1],
    "tickSize":{"condition":{"test":"abs(datum.value*2-round(datum.value*2))<0.01","value":-4},"value":-2}}},
  "y":{"field":"y","type":"quantitative","scale":{"domain":[-1.121,1.131],"nice":false,"zero":false},
   "axis":{"orient":"right","title":null,"labels":false,"values":[-1.1,-1,-0.9,-0.8,-0.7,-0.6,-0.5,-0.4,-0.3,-0.2,-0.1,0,0.1,0.2,0.3,0.4,0.5,0.6,0.7,0.8,0.9,1,1.1],
    "tickSize":{"condition":{"test":"abs(datum.value*2-round(datum.value*2))<0.01","value":-4},"value":-2}}},
  "order":{"field":"i","type":"quantitative"}}},
{"data":{"name":"circ"},"transform":[{"filter":"datum.c == 'w'"}],
 "mark":{"type":"line","color":"#ffffff","strokeWidth":1.6,"interpolate":"linear-closed"},
 "encoding":{
  "x":{"field":"x","type":"quantitative","scale":{"domain":[-1.115,1.135],"nice":false,"zero":false},"axis":null},
  "y":{"field":"y","type":"quantitative","scale":{"domain":[-1.121,1.131],"nice":false,"zero":false},"axis":null},
  "order":{"field":"i","type":"quantitative"}}},
{"data":{"name":"circ"},"transform":[{"filter":"datum.c == 'g'"}],
 "mark":{"type":"line","color":"#1ee01e","strokeWidth":1.6,"interpolate":"linear-closed"},
 "encoding":{
  "x":{"field":"x","type":"quantitative","scale":{"domain":[-1.115,1.135],"nice":false,"zero":false},"axis":null},
  "y":{"field":"y","type":"quantitative","scale":{"domain":[-1.121,1.131],"nice":false,"zero":false},"axis":null},
  "order":{"field":"i","type":"quantitative"}}},
{"mark":{"type":"rule","color":"#9a9a9a","strokeWidth":1.2},
 "encoding":{
  "x":{"datum":0,"type":"quantitative","scale":{"domain":[-1.115,1.135],"nice":false,"zero":false},"axis":null},
  "y":{"datum":-1.1,"type":"quantitative","scale":{"domain":[-1.121,1.131],"nice":false,"zero":false},"axis":null},
  "y2":{"datum":1.1}}},
{"mark":{"type":"rule","color":"#9a9a9a","strokeWidth":1.2},
 "encoding":{
  "y":{"datum":0,"type":"quantitative","scale":{"domain":[-1.121,1.131],"nice":false,"zero":false},"axis":null},
  "x":{"datum":-1.1,"type":"quantitative","scale":{"domain":[-1.115,1.135],"nice":false,"zero":false},"axis":null},
  "x2":{"datum":1.1}}},
{"mark":{"type":"text","text":"k","font":"Liberation Sans","fontStyle":"italic","fontSize":12,"align":"left","baseline":"alphabetic","color":"#333333"},
 "encoding":{
  "x":{"datum":-1.618,"type":"quantitative","scale":{"domain":[-1.115,1.135],"nice":false,"zero":false},"axis":null},
  "y":{"datum":-0.041,"type":"quantitative","scale":{"domain":[-1.121,1.131],"nice":false,"zero":false},"axis":null}}},
{"mark":{"type":"text","text":"y","font":"Liberation Sans","fontStyle":"italic","fontSize":8,"align":"left","baseline":"alphabetic","color":"#333333"},
 "encoding":{
  "x":{"datum":-1.552,"type":"quantitative","scale":{"domain":[-1.115,1.135],"nice":false,"zero":false},"axis":null},
  "y":{"datum":-0.061,"type":"quantitative","scale":{"domain":[-1.121,1.131],"nice":false,"zero":false},"axis":null}}},
{"mark":{"type":"text","text":"k","font":"Liberation Sans","fontStyle":"italic","fontSize":12,"align":"left","baseline":"alphabetic","color":"#333333"},
 "encoding":{
  "x":{"datum":-0.067,"type":"quantitative","scale":{"domain":[-1.115,1.135],"nice":false,"zero":false},"axis":null},
  "y":{"datum":-1.435,"type":"quantitative","scale":{"domain":[-1.121,1.131],"nice":false,"zero":false},"axis":null}}},
{"mark":{"type":"text","text":"z","font":"Liberation Sans","fontStyle":"italic","fontSize":8,"align":"left","baseline":"alphabetic","color":"#333333"},
 "encoding":{
  "x":{"datum":-0.011,"type":"quantitative","scale":{"domain":[-1.115,1.135],"nice":false,"zero":false},"axis":null},
  "y":{"datum":-1.465,"type":"quantitative","scale":{"domain":[-1.121,1.131],"nice":false,"zero":false},"axis":null}}}
]
}
